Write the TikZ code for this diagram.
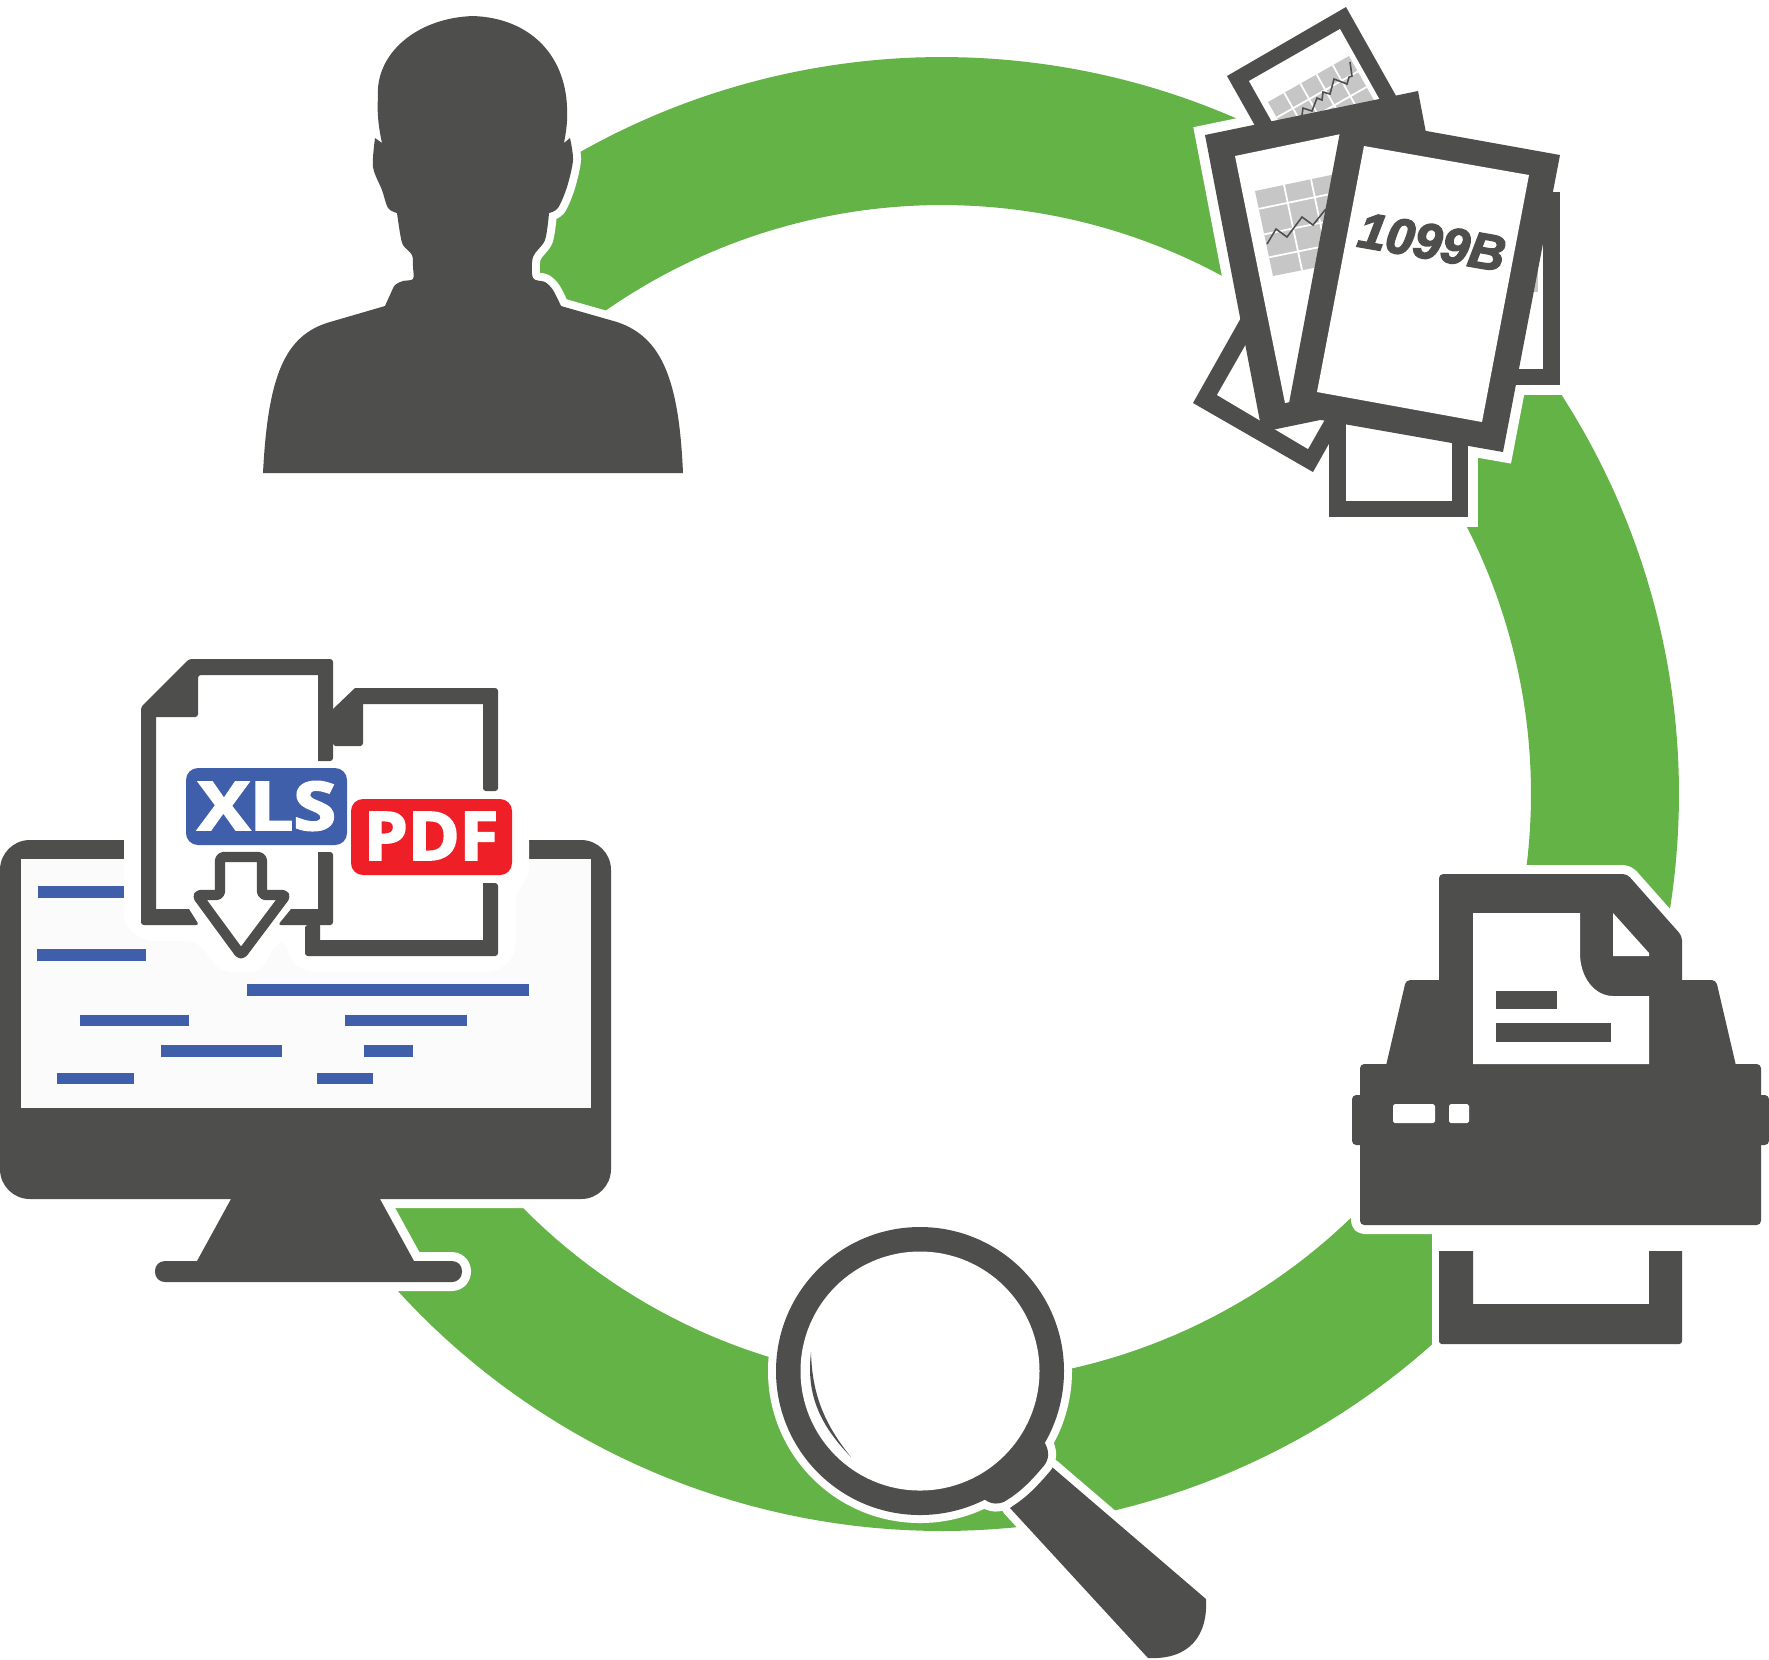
\documentclass[tikz,border=0pt]{standalone}
\usepackage{fontspec}
\setmainfont{Liberation Sans}
\newfontfamily\badgefont{Open Sans}[BoldFeatures={FakeBold=3}]
\newfontfamily\formfont{Liberation Sans}[BoldItalicFeatures={FakeBold=3}]
\usetikzlibrary{calc}
\definecolor{darkgrey}{HTML}{4E4E4D}
\definecolor{ringgreen}{HTML}{64B347}
\definecolor{barblue}{HTML}{3F5FAB}
\definecolor{badgered}{HTML}{EF1F27}
\definecolor{chartgrey}{HTML}{C6C6C6}
\tikzset{
    dark/.style={fill=darkgrey}, % every icon body
    paper/.style={fill=white},
    halo/.style={draw=white, line width=#1*0.2845pt, line join=round}, % white edge that cuts the ring
    halo/.default=18,
    bar/.style={fill=barblue},
    chart/.style={fill=chartgrey},
    chartgrid/.style={draw=white, line width=0.5pt},
    chartline/.style={draw=darkgrey, line width=0.45pt},
    badgetext/.style={text=white, inner sep=0pt, font=\badgefont\bfseries\fontsize{19}{19}\selectfont},
}
% one green piece of the ring, from angle #1 to angle #2
\newcommand{\ringpart}[2]{
    \fill[ringgreen] plot[domain=#1:#2, samples=80] ({942+737*cos(\x)},{794-737*sin(\x)})
        -- plot[domain=#2:#1, samples=80] ({942+589*cos(\x)},{794-589*sin(\x)}) -- cycle;
}
\begin{document}
\begin{tikzpicture}[x=0.01cm,y=-0.01cm]
    \useasboundingbox (0,0) rectangle (1769,1659);

    % ring
    \ringpart{130}{55}
    \ringpart{40}{-15}
    \ringpart{-38}{-146}
    \fill[white] (1432,1200) rectangle (1700,1352);

    % person
    \def\personpath{(263,473) .. controls (268,375) and (285,335) .. (330,322) -- (385,306)
        -- plot[smooth, tension=.5] coordinates {(385,306) (390,295) (395,285) (403,281) (413,279) (413,267) (412,255) (403,245) (400,233) (397,213)}
        -- plot[smooth, tension=.5] coordinates {(397,213) (388,208) (382,190) (373,167) (375,138)}
        -- (382,143) .. controls (378,125) and (377,110) .. (378,97) .. controls (375,55) and (415,18) .. (473,16) .. controls (530,18) and (565,55) .. (567,107) .. controls (568,120) and (566,132) .. (564,143)
        -- (570,138) -- plot[smooth, tension=.5] coordinates {(570,138) (573,160) (567,187) (558,208) (549,213)}
        -- plot[smooth, tension=.5] coordinates {(549,213) (545,240) (533,257) (533,278) (545,282) (553,290) (561,306)}
        -- (617,322) .. controls (662,337) and (679,380) .. (683,473) -- cycle}
    \path[halo=16] \personpath;
    \fill[dark] \personpath;

    % papers, back to front
    \path[halo=20, line join=miter] (1205,135) -- (1418,91) -- (1475,388) -- (1262,432) -- cycle;
    \path[halo=20, line join=miter] (1343,116) -- (1560,155) -- (1503,452) -- (1287,414) -- cycle;
    \path[halo=20, line join=miter] (1400,192) rectangle (1560,385);
    \path[halo=20, line join=miter] (1329,300) rectangle (1468,517);

    \fill[dark] (1193,403) -- (1313,472) -- (1415,291) -- (1295,222) -- cycle;
    \fill[paper] (1217,395) -- (1308,449) -- (1410,270) -- (1319,216) -- cycle;

    \fill[dark] (1227,76) -- (1346,7) -- (1448,188) -- (1329,257) -- cycle;
    \fill[paper] (1249,81) -- (1340,29) -- (1440,207) -- (1349,259) -- cycle;
    \coordinate (upa) at (1268,102);
    \coordinate (upb) at (1349,56);
    \coordinate (upc) at (1384,118);
    \coordinate (upd) at (1303,164);
    \fill[chart] (upa) -- (upb) -- (upc) -- (upd) -- cycle;
    \foreach \t in {.2,.4,.6,.8} {
        \draw[chartgrid] ($(upa)!\t!(upb)$) -- ($(upd)!\t!(upc)$);
    }
    \foreach \t in {.25,.5,.75} {
        \draw[chartgrid] ($(upa)!\t!(upd)$) -- ($(upb)!\t!(upc)$);
    }
    \draw[chartline] (1302,115) -- (1303,108) -- (1312,111) -- (1317,98) -- (1322,100) -- (1323,92) -- (1330,94) -- (1334,79) -- (1347,84) -- (1349,77) -- (1352,76) -- (1350,62);

    \fill[dark] (1329,300) rectangle (1468,517);
    \fill[paper] (1346,316) rectangle (1452,501);
    \fill[dark] (1400,192) rectangle (1560,385);
    \fill[paper] (1400,209) rectangle (1543,369);
    \fill[chart] (1528,266) rectangle (1538,292);

    \fill[dark] (1205,135) -- (1418,91) -- (1475,388) -- (1262,432) -- cycle;
    \fill[paper] (1235,156) -- (1389,124) -- (1440,371) -- (1285,403) -- cycle;
    \coordinate (cha) at (1255,191);
    \coordinate (chb) at (1355,170);
    \coordinate (chc) at (1373,256);
    \coordinate (chd) at (1273,276);
    \fill[chart] (cha) -- (chb) -- (chc) -- (chd) -- cycle;
    \foreach \t in {.29,.56,.83} {
        \draw[chartgrid] ($(cha)!\t!(chb)$) -- ($(chd)!\t!(chc)$);
    }
    \foreach \t in {.21,.51,.78} {
        \draw[chartgrid] ($(cha)!\t!(chd)$) -- ($(chb)!\t!(chc)$);
    }
    \draw[chartline] (1267,244) -- (1276,229) -- (1287,237) -- (1302,217) -- (1313,225) -- (1325,210) -- (1345,198);

    \fill[dark] (1343,116) -- (1560,155) -- (1503,452) -- (1287,414) -- cycle;
    \fill[paper] (1364,146) -- (1529,175) -- (1482,422) -- (1317,392) -- cycle;
    \node[rotate=-10, inner sep=0pt, text=darkgrey, font=\formfont\bfseries\itshape\fontsize{14.3}{14.3}\selectfont] (formno) at (1432,242) {1099B};

    % printer
    \foreach \st in {halo, dark} {
        \path[\st, rounded corners=1.2pt] (1439,1000) -- (1439,874) -- (1627,874) -- (1682,936) -- (1682,1000) -- cycle;
        \path[\st, rounded corners=1.2pt] (1406,980) -- (1716,980) -- (1737,1070) -- (1385,1070) -- cycle;
        \path[\st, rounded corners=1.2pt] (1360,1064) rectangle (1761,1225);
        \path[\st, rounded corners=1.2pt] (1352,1095) rectangle (1769,1145);
    }
    \fill[paper] (1473,913) -- (1580,913) -- (1580,953) .. controls (1580,978) and (1595,996) .. (1613,996) -- (1649,996) -- (1649,1064) -- (1473,1064) -- cycle;
    \fill[paper] (1613,913) -- (1649,953) -- (1649,956) -- (1613,956) -- cycle;
    \fill[dark] (1496,991) rectangle (1557,1009);
    \fill[dark] (1496,1023) rectangle (1611,1042);
    \fill[paper, rounded corners=0.5pt] (1393,1104) rectangle (1435,1123);
    \fill[paper, rounded corners=0.5pt] (1449,1104) rectangle (1469,1123);
    \fill[dark] (1473,1251) -- (1473,1304) -- (1649,1304) -- (1649,1251) -- (1682,1251) [rounded corners=0.8pt] -- (1682,1344) -- (1439,1344) [sharp corners] -- (1439,1251) -- cycle;

    % magnifier
    \def\handlepath{(1052,1467) -- (1206,1599) .. controls (1208,1635) and (1190,1660) .. (1148,1658) -- (1010,1508) -- cycle}
    \path[halo=16] \handlepath;
    \fill[dark] \handlepath;
    \path[halo=16] (920,1371) circle[radius=144];
    \def\neckpath{(1043,1440) .. controls (1050,1450) and (1050,1460) .. (1042,1468) .. controls (1030,1482) and (1020,1492) .. (1007,1500) .. controls (1000,1505) and (990,1505) .. (983,1498) -- (1010,1460) -- cycle}
    \path[halo=16] \neckpath;
    \fill[dark] (920,1371) circle[radius=144];
    \fill[dark] \neckpath;
    \fill[paper] (920,1371) circle[radius=119.5];
    \fill[dark] (811,1352) .. controls (806,1395) and (820,1425) .. (851,1457) .. controls (825,1425) and (812,1395) .. (811,1352) -- cycle;

    % monitor
    \path[halo=18, rounded corners=8.5pt] (0,840) rectangle (611,1199);
    \path[halo=18] (231,1199) -- (197,1261) -- (414,1261) -- (380,1199) -- cycle;
    \path[halo=18, rounded corners=2.8pt] (155,1261) rectangle (462,1282);
    \fill[dark, rounded corners=8.5pt] (0,840) rectangle (611,1199);
    \fill[dark] (231,1199) -- (197,1261) -- (414,1261) -- (380,1199) -- cycle;
    \fill[dark, rounded corners=2.8pt] (155,1261) rectangle (462,1282);
    \fill[white!98.5!black] (21,859) rectangle (591,1108);

    \foreach \xa/\ya/\xb/\yb in {38/886/124/898, 37/949/146/961, 247/984/529/996, 80/1015/189/1026, 345/1015/467/1026,
        161/1045/282/1057, 364/1045/413/1057, 57/1073/134/1084, 317/1073/373/1084} {
        \fill[bar] (\xa,\ya) rectangle (\xb,\yb);
    }

    % white patch behind the two files
    \fill[white, rounded corners=3pt] (124,830) -- (124,926) -- (145,941) -- (197,941) -- (221,972) -- (261,972) -- (277,941)
        -- (287,941) -- (289,960) -- (305,972) -- (498,972) -- (516,954) -- (516,893) -- (529,876) -- (529,830) -- cycle;

    % files
    \fill[dark] (333,709) -- (355,688) [rounded corners=0.8pt] -- (498,688) -- (498,791) -- (483,791) [sharp corners] -- (483,704) -- (363,704) [rounded corners=0.8pt] -- (363,746) -- (333,746) [sharp corners] -- cycle;
    \fill[dark] (483,883) [rounded corners=0.8pt] -- (498,883) -- (498,956) -- (305,956) -- (305,925) [sharp corners] -- (320,925) -- (320,940) -- (483,940) -- cycle;
    \fill[dark] (318,761) [rounded corners=0.8pt] -- (333,761) -- (333,659) -- (189,659) -- (141,707) -- (141,925) -- (199,925) [sharp corners] -- (189,909) -- (156,909) -- (156,717) [rounded corners=0.8pt] -- (198,717) -- (198,675) [sharp corners] -- (318,675) -- cycle;
    \fill[dark] (318,852) [rounded corners=0.8pt] -- (333,852) -- (333,925) -- (278,925) [sharp corners] -- (291,909) -- (318,909) -- cycle;

    % download arrow
    \draw[draw=darkgrey, fill=white, line width=2.9pt, line join=round, rounded corners=1pt]
        (220,857) -- (262,857) -- (262,895) -- (286,895) -- (241,955) -- (197,895) -- (220,895) -- cycle;

    % badges
    \fill[barblue, rounded corners=3.4pt] (186,768) rectangle (347,845);
    \node[badgetext] (xls) at (267,806) {\scalebox{1.16}[1]{XLS}};
    \fill[badgered, rounded corners=3.4pt] (351,799) rectangle (512,875);
    \node[badgetext] (pdf) at (431,836) {\scalebox{1.05}[1]{PDF}};
\end{tikzpicture}
\end{document}
